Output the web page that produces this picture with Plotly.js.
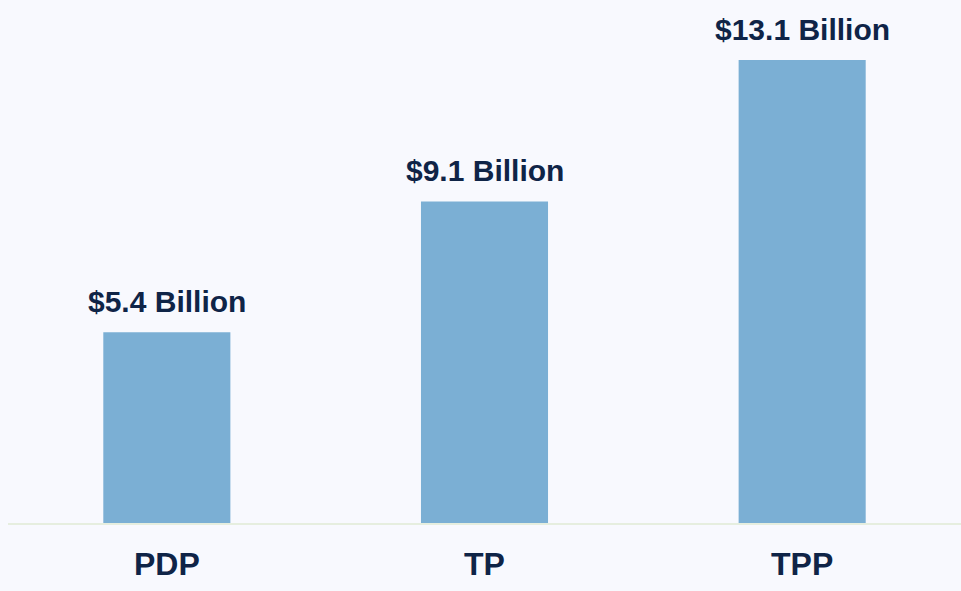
<!DOCTYPE html>
<html>
<head>
<meta charset="utf-8">
<script src="https://cdn.plot.ly/plotly-3.0.1.min.js"></script>
<style>html,body{margin:0;padding:0;background:#f8f9fe;}#chart{width:961px;height:591px;}</style>
</head>
<body>
<div id="chart"></div>
<script>
const categories = ["PDP", "TP", "TPP"];
const values = [5.4, 9.1, 13.1];
const labels = ["$5.4 Billion", "$9.1 Billion", "$13.1 Billion"];

const trace = {
  type: "bar",
  x: categories,
  y: values,
  marker: {color: "#7bafd4"},
  width: 0.4,
  hoverinfo: "none"
};

const annotations = categories.map((c, i) => ({
  x: c, y: values[i], xref: "x", yref: "y",
  text: labels[i], showarrow: false,
  xanchor: "center", yanchor: "bottom", yshift: 12,
  font: {family: "Liberation Sans, Arial, sans-serif", size: 30, color: "#0f2447", weight: "bold"}
}));

const layout = {
  width: 961, height: 591,
  margin: {l: 8, r: 0, t: 0, b: 68},
  paper_bgcolor: "#f8f9fe",
  plot_bgcolor: "#f8f9fe",
  showlegend: false,
  annotations: annotations,
  xaxis: {
    showline: true, linecolor: "#e6eedf", linewidth: 2,
    showgrid: false, zeroline: false, ticks: "",
    tickfont: {family: "Liberation Sans, Arial, sans-serif", size: 32, color: "#0f2447", weight: "bold"},
    ticklabelstandoff: 12
  },
  yaxis: {
    range: [0, 14.8], visible: false, showgrid: false, zeroline: false
  }
};

Plotly.newPlot("chart", [trace], layout, {displayModeBar: false, staticPlot: true});
</script>
</body>
</html>
